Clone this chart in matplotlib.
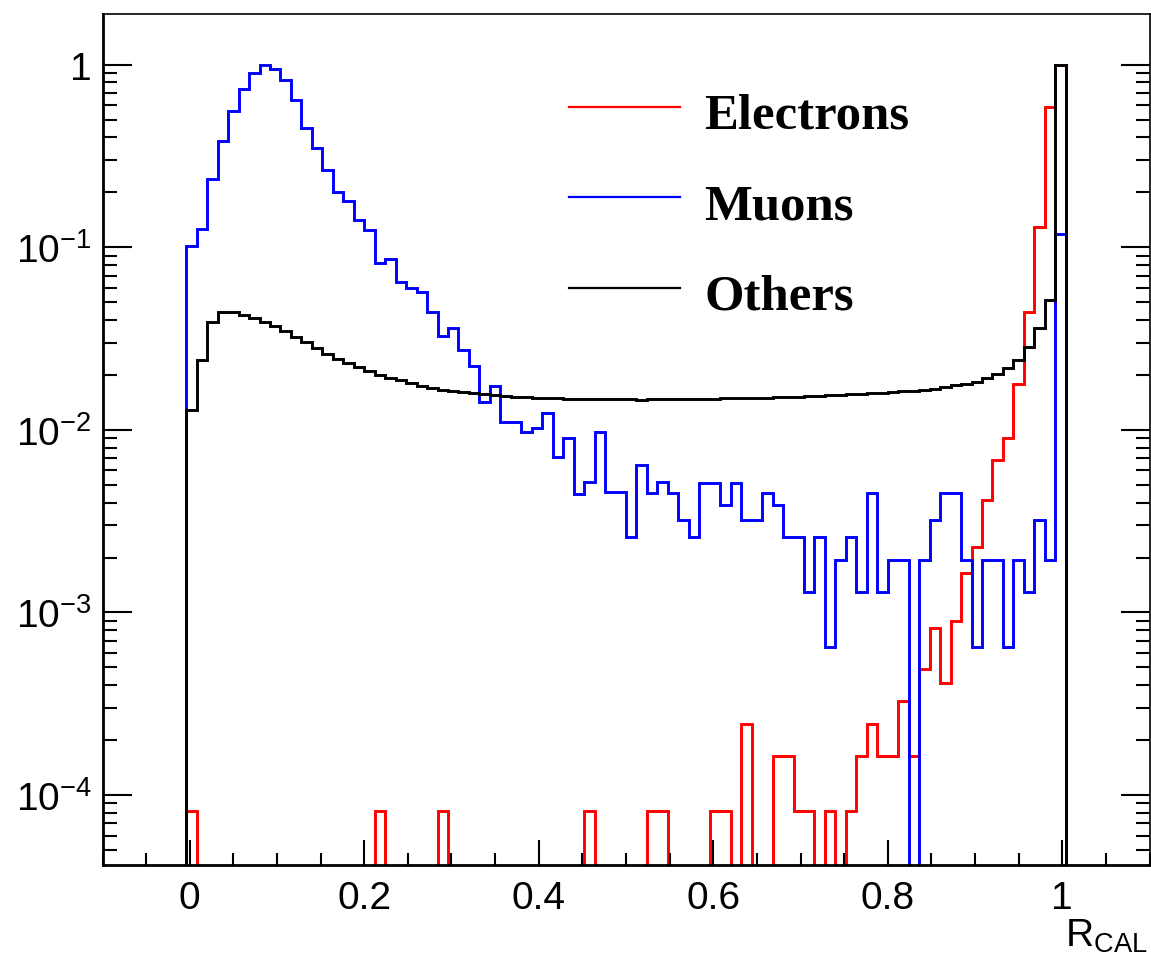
import matplotlib
matplotlib.use("Agg")
import matplotlib.pyplot as plt
import numpy as np
from matplotlib.ticker import LogLocator, MultipleLocator, NullFormatter

# histogram binning: 100 bins in [-0.1, 1.1], filled bins are 8..91
all_edges = np.linspace(-0.1, 1.1, 101)
first_bin, last_bin = 8, 92

electrons = [
    8.2e-5, 0, 0, 0, 0, 0, 0, 0, 0, 0,
    0, 0, 0, 0, 0, 0, 0, 0, 8.2e-5, 0,
    0, 0, 0, 0, 8.2e-5, 0, 0, 0, 0, 0,
    0, 0, 0, 0, 0, 0, 0, 0, 8.2e-5, 0,
    0, 0, 0, 0, 8.2e-5, 8.2e-5, 0, 0, 0, 0,
    8.2e-5, 8.2e-5, 0, 2.45e-4, 0, 0, 1.64e-4, 1.64e-4, 8.2e-5, 8.2e-5,
    0, 8.2e-5, 0, 8.2e-5, 1.64e-4, 2.45e-4, 1.64e-4, 1.64e-4, 3.29e-4, 1.64e-4,
    4.9e-4, 8.2e-4, 4.1e-4, 9.0e-4, 1.64e-3, 2.28e-3, 4.15e-3, 6.87e-3, 9.0e-3, 0.0178,
    0.0444, 0.129, 0.589, 1.0,
]

muons = [
    0.102, 0.126, 0.237, 0.381, 0.56, 0.736, 0.90, 1.0, 0.947, 0.828,
    0.643, 0.449, 0.348, 0.265, 0.200, 0.180, 0.141, 0.124, 0.082, 0.086,
    0.0648, 0.0596, 0.0567, 0.044, 0.0326, 0.036, 0.0275, 0.0225, 0.0142, 0.0173,
    0.011, 0.011, 0.0097, 0.0103, 0.0123, 0.00708, 0.0090, 0.00446, 0.00517, 0.0097,
    0.00455, 0.00455, 0.00258, 0.00643, 0.0045, 0.00517, 0.0045, 0.00322, 0.00258, 0.00512,
    0.00512, 0.00388, 0.00512, 0.00322, 0.00322, 0.0045, 0.00388, 0.00258, 0.00258, 0.0013,
    0.00258, 0.000645, 0.00193, 0.00258, 0.0013, 0.0045, 0.0013, 0.00193, 0.00193, 0,
    0.00193, 0.00322, 0.0045, 0.0045, 0.00193, 0.000645, 0.00193, 0.00193, 0.000645, 0.00193,
    0.0013, 0.00322, 0.00193, 0.118,
]

others = [
    0.0129, 0.0242, 0.0392, 0.0444, 0.0441, 0.0426, 0.0410, 0.0392, 0.0369, 0.0347,
    0.0324, 0.0302, 0.0281, 0.0260, 0.0245, 0.0232, 0.0220, 0.0210, 0.0200, 0.0193,
    0.0187, 0.0181, 0.0175, 0.0170, 0.0166, 0.0163, 0.0161, 0.0159, 0.0157, 0.0155,
    0.0153, 0.0152, 0.0151, 0.0150, 0.0149, 0.0149, 0.0148, 0.0148, 0.0147, 0.0147,
    0.0147, 0.0147, 0.0147, 0.0146, 0.0147, 0.0147, 0.0147, 0.0148, 0.0148, 0.0148,
    0.0148, 0.0149, 0.0149, 0.0149, 0.0150, 0.0150, 0.0151, 0.0151, 0.0152, 0.0153,
    0.0154, 0.0155, 0.0156, 0.0157, 0.0158, 0.0159, 0.0160, 0.0161, 0.0163, 0.0164,
    0.0166, 0.0168, 0.0172, 0.0176, 0.0179, 0.0183, 0.0193, 0.0203, 0.0218, 0.0242,
    0.0285, 0.0362, 0.0517, 1.0,
]

series = [("Electrons", electrons, "#ff0000"), ("Muons", muons, "#0000ff"), ("Others", others, "#000000")]

x_ticks = [0, 0.2, 0.4, 0.6, 0.8, 1.0]
x_labels = ["0", "0.2", "0.4", "0.6", "0.8", "1"]
y_ticks = [1e-4, 1e-3, 1e-2, 1e-1, 1]
y_labels = [r"$10^{-4}$", r"$10^{-3}$", r"$10^{-2}$", r"$10^{-1}$", "1"]

plt.rcParams["font.family"] = ["Liberation Sans", "DejaVu Sans"]
plt.rcParams["mathtext.fontset"] = "custom"
plt.rcParams["mathtext.rm"] = "Liberation Sans"
plt.rcParams["mathtext.it"] = "Liberation Sans:italic"

W, H = 1151, 962
fig = plt.figure(figsize=(W / 100, H / 100), dpi=100)
ax = fig.add_axes([102.5 / W, (H - 866) / H, 1047 / W, 851 / H])
ax.set_yscale("log")

edges = all_edges[first_bin:last_bin + 1]
floor = 1e-9
for name, vals, color in series:
    v = np.asarray(vals, dtype=float)
    v = np.where(v > 0, v, floor)
    ax.stairs(v, edges, baseline=floor, color=color, lw=2.1, joinstyle="miter")

ax.set_xlim(-0.1, 1.1)
ax.set_ylim(4.14e-5, 1.896)

ax.set_xticks(x_ticks, labels=x_labels)
ax.xaxis.set_minor_locator(MultipleLocator(0.05))
ax.set_yticks(y_ticks, labels=y_labels)
ax.yaxis.set_minor_locator(LogLocator(base=10, subs=np.arange(2, 10)))
ax.yaxis.set_minor_formatter(NullFormatter())

ax.tick_params(axis="both", which="both", direction="in", top=False, right=True,
               width=1.5, labelsize=28)
ax.tick_params(axis="y", which="major", length=21, pad=8)
ax.tick_params(axis="y", which="minor", length=10)
ax.tick_params(axis="x", which="major", length=18, pad=11)
ax.tick_params(axis="x", which="minor", length=9)

for side in ("left", "bottom"):
    ax.spines[side].set_linewidth(2.0)
for side in ("top", "right"):
    ax.spines[side].set_linewidth(1.2)

# axis title at the end of the x axis
fig.text(1147 / W, (H - 947) / H, r"$\mathrm{R_{CAL}}$", ha="right", va="baseline", fontsize=28)

# legend drawn by hand, ROOT style
y_top, dy = 0.891, 0.1062
for i, (name, vals, color) in enumerate(series):
    y = y_top - i * dy
    ax.plot([0.446, 0.552], [y, y], transform=ax.transAxes, color=color, lw=1.6)
    ax.text(0.575, y - 0.0247, name, transform=ax.transAxes, va="baseline", ha="left",
            fontsize=36.5, fontweight="bold", family=["Liberation Serif", "DejaVu Serif"])

fig.savefig("out.png", dpi=100)
